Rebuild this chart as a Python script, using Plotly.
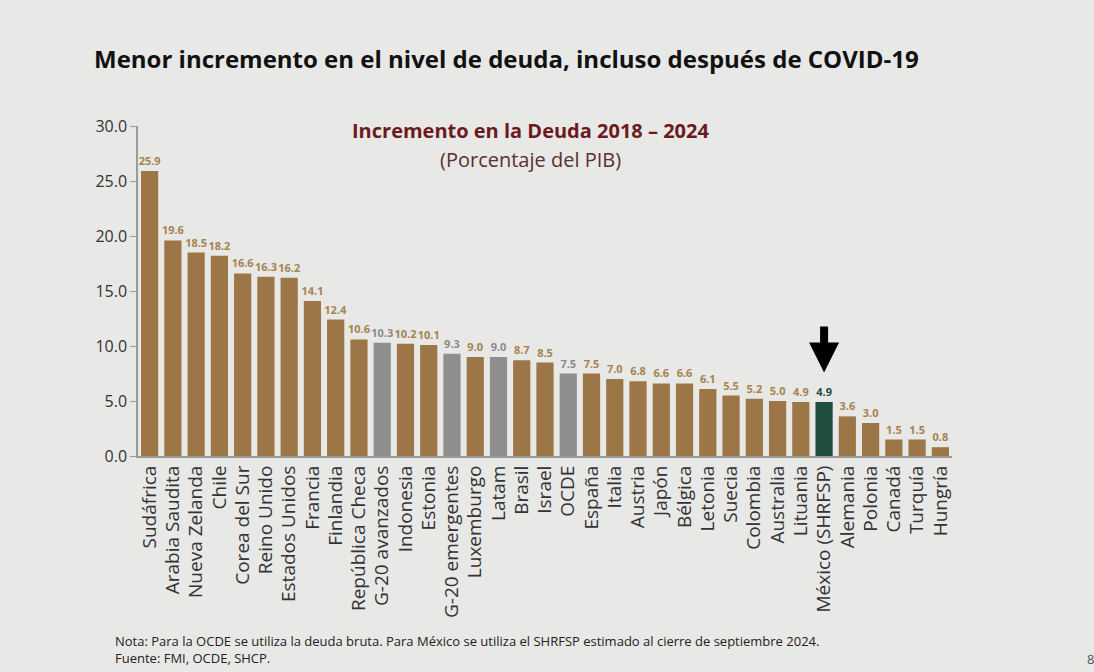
import plotly.graph_objects as go

categories = ["Sudáfrica", "Arabia Saudita", "Nueva Zelanda", "Chile", "Corea del Sur",
              "Reino Unido", "Estados Unidos", "Francia", "Finlandia", "República Checa",
              "G-20 avanzados", "Indonesia", "Estonia", "G-20 emergentes", "Luxemburgo",
              "Latam", "Brasil", "Israel", "OCDE", "España", "Italia", "Austria", "Japón",
              "Bélgica", "Letonia", "Suecia", "Colombia", "Australia", "Lituania",
              "México (SHRFSP)", "Alemania", "Polonia", "Canadá", "Turquía", "Hungría"]
values = [25.9, 19.6, 18.5, 18.2, 16.6, 16.3, 16.2, 14.1, 12.4, 10.6,
          10.3, 10.2, 10.1, 9.3, 9.0, 9.0, 8.7, 8.5, 7.5, 7.5, 7.0, 6.8, 6.6,
          6.6, 6.1, 5.5, 5.2, 5.0, 4.9, 4.9, 3.6, 3.0, 1.5, 1.5, 0.8]
groups = ["G-20 avanzados", "G-20 emergentes", "Latam", "OCDE"]
highlight = "México (SHRFSP)"
y_ticks = [0, 5, 10, 15, 20, 25, 30]

BROWN = "#9C7646"
BROWN_TXT = "#A5834F"
GRAY = "#8E8E8E"
GRAY_TXT = "#8A8A8A"
GREEN = "#1F4E3D"
GREEN_TXT = "#1F4E3D"

bar_colors, text_colors = [], []
for c in categories:
    if c == highlight:
        bar_colors.append(GREEN); text_colors.append(GREEN_TXT)
    elif c in groups:
        bar_colors.append(GRAY); text_colors.append(GRAY_TXT)
    else:
        bar_colors.append(BROWN); text_colors.append(BROWN_TXT)

FONT = "Open Sans"

fig = go.Figure(go.Bar(
    x=categories, y=values,
    marker=dict(color=bar_colors, line=dict(width=0)),
    text=[f"{v:.1f}" for v in values],
    textposition="outside",
    constraintext="none",
    textfont=dict(family=FONT, size=11, color=text_colors, weight="bold"),
    cliponaxis=False,
    width=0.74,
))

fig.update_layout(
    width=1094, height=672,
    paper_bgcolor="#E8E8E7", plot_bgcolor="rgba(0,0,0,0)",
    margin=dict(l=138, r=142, t=126, b=216),
    showlegend=False,
    font=dict(family=FONT, color="#333333"),
)
fig.update_xaxes(
    tickangle=-90, tickfont=dict(size=19, color="#333333"),
    showline=True, linecolor="#9A9A9A", linewidth=2,
    ticks="", showgrid=False,
)
fig.update_yaxes(
    range=[0, 30], tickvals=y_ticks, tickformat=".1f",
    tickfont=dict(size=16, color="#333333"),
    showline=True, linecolor="#9A9A9A", linewidth=1.5,
    ticks="outside", ticklen=6, tickcolor="#9A9A9A",
    showgrid=False, zeroline=False,
)

fig.add_annotation(
    text="<b>Menor incremento en el nivel de deuda, incluso después de COVID-19</b>",
    xref="paper", yref="paper", x=-0.0565, y=1.206, xanchor="left", yanchor="middle",
    showarrow=False, font=dict(family=FONT, size=24, color="#111111"),
)
fig.add_annotation(
    text="<b>Incremento en la Deuda 2018 – 2024</b>",
    xref="paper", yref="paper", x=0.482, y=0.985, xanchor="center", yanchor="middle",
    showarrow=False, font=dict(family=FONT, size=20, color="#6B1A1E"),
)
fig.add_annotation(
    text="(Porcentaje del PIB)",
    xref="paper", yref="paper", x=0.482, y=0.898, xanchor="center", yanchor="middle",
    showarrow=False, font=dict(family=FONT, size=20, color="#5A3030"),
)
# arrow pointing to Mexico
mex_val = values[categories.index(highlight)]
fig.add_annotation(
    x=highlight, y=mex_val + 2.7, xref="x", yref="y",
    ax=highlight, ay=mex_val + 7.0, axref="x", ayref="y",
    text="", showarrow=True, arrowhead=2, arrowsize=0.75, arrowwidth=8,
    arrowcolor="#000000", standoff=0,
)
fig.add_annotation(
    text="Nota: Para la OCDE se utiliza la deuda bruta. Para México se utiliza el SHRFSP estimado al cierre de septiembre 2024.<br>Fuente: FMI, OCDE, SHCP.",
    xref="paper", yref="paper", x=-0.0305, y=-0.527, xanchor="left", yanchor="top",
    align="left", showarrow=False, font=dict(family=FONT, size=13, color="#222222"),
)
fig.add_annotation(
    text="8", xref="paper", yref="paper", x=1.163, y=-0.615, xanchor="left", yanchor="middle",
    showarrow=False, font=dict(family=FONT, size=13, color="#555555"),
)

fig.write_html("out.html", config={"displayModeBar": False},
               post_script="document.body.style.margin='0';document.body.style.padding='0';")
